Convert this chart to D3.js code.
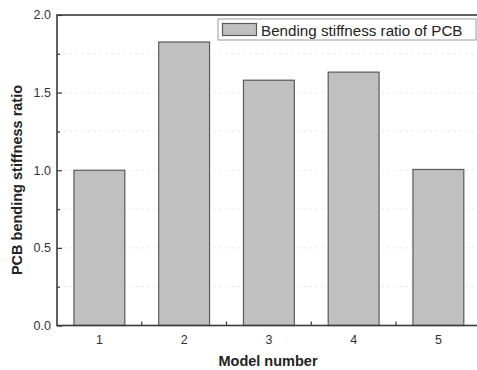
<!DOCTYPE html>
<html><head><meta charset="utf-8">
<script src="https://cdn.jsdelivr.net/npm/d3@7"></script>
<style>body{margin:0;background:#fff;} svg{display:block;font-family:"Liberation Sans",Arial,sans-serif;}</style>
</head><body>
<svg id="c" width="477" height="370"></svg>
<script>
const categories = ["1","2","3","4","5"];
const values = [1.0, 1.826, 1.58, 1.632, 1.005];
const yTicks = [0.0, 0.5, 1.0, 1.5, 2.0];
const yMinorTicks = [0.25, 0.75, 1.25, 1.75];
const seriesName = "Bending stiffness ratio of PCB";
const xTitle = "Model number";
const yTitle = "PCB bending stiffness ratio";

const svg = d3.select("#c");
const L = 57, T = 15, B = 325.5, R = 480.75;
const x = d3.scaleBand().domain(categories).range([L, R]).paddingInner(0.4).paddingOuter(0.2);
const y = d3.scaleLinear().domain([0, 2]).range([B, T]);

// gridlines
svg.append("g").selectAll("line").data(yTicks.concat(yMinorTicks).filter(d=>d>0&&d<2)).join("line")
  .attr("x1", L).attr("x2", R).attr("y1", d=>y(d)).attr("y2", d=>y(d))
  .attr("stroke", "#ebebeb").attr("stroke-width", 1).attr("stroke-dasharray", "3,3");

// bars
svg.append("g").selectAll("rect").data(values).join("rect")
  .attr("x", (d,i)=>x(categories[i])).attr("width", x.bandwidth())
  .attr("y", d=>y(d)).attr("height", d=>B - y(d))
  .attr("fill", "#c0c0c0").attr("stroke", "#5a5a5a").attr("stroke-width", 1.2);

// frame
svg.append("rect").attr("x", L).attr("y", T).attr("width", R-L).attr("height", B-T)
  .attr("fill", "none").attr("stroke", "#3a3a3a").attr("stroke-width", 1.6);

// y axis ticks (inward)
const yAxis = d3.axisRight(y).tickValues(yTicks).tickSize(5).tickFormat("");
const gy = svg.append("g").attr("transform", `translate(${L},0)`).call(yAxis);
gy.select(".domain").remove();
gy.selectAll("line").attr("stroke", "#3a3a3a").attr("stroke-width", 1.2);
const gym = svg.append("g").attr("transform", `translate(${L},0)`)
  .call(d3.axisRight(y).tickValues(yMinorTicks).tickSize(3).tickFormat(""));
gym.select(".domain").remove();
gym.selectAll("line").attr("stroke", "#3a3a3a").attr("stroke-width", 1.2);
svg.append("g").selectAll("text").data(yTicks).join("text")
  .attr("x", L - 6).attr("y", d=>y(d)).attr("dy", "0.35em").attr("text-anchor", "end")
  .attr("font-size", 12.5).attr("fill", "#333").text(d=>d3.format(".1f")(d));

// x axis: boundary ticks inward, labels at centers
const bounds = categories.slice(1).map((c,i)=> (x(categories[i]) + x.bandwidth() + x(c)) / 2);
svg.append("g").selectAll("line").data(bounds).join("line")
  .attr("x1", d=>d).attr("x2", d=>d).attr("y1", B).attr("y2", B-4)
  .attr("stroke", "#3a3a3a").attr("stroke-width", 1.2);
svg.append("g").selectAll("text").data(categories).join("text")
  .attr("x", d=>x(d)+x.bandwidth()/2).attr("y", B + 18).attr("text-anchor", "middle")
  .attr("font-size", 12.5).attr("fill", "#333").text(d=>d);

// titles
svg.append("text").attr("x", 268).attr("y", 366).attr("text-anchor", "middle")
  .attr("font-size", 14.5).attr("font-weight", "bold").attr("fill", "#222").text(xTitle);
svg.append("text").attr("transform", "translate(22,180) rotate(-90)").attr("text-anchor", "middle")
  .attr("font-size", 14.5).attr("font-weight", "bold").attr("fill", "#222").text(yTitle);

// legend
const lg = svg.append("g");
lg.append("rect").attr("x", 218).attr("y", 19).attr("width", 258).attr("height", 21)
  .attr("fill", "#fff").attr("stroke", "#999").attr("stroke-width", 1);
lg.append("rect").attr("x", 222.5).attr("y", 23.5).attr("width", 34).attr("height", 12)
  .attr("fill", "#c0c0c0").attr("stroke", "#5a5a5a").attr("stroke-width", 1.2);
lg.append("text").attr("x", 261).attr("y", 35.5).attr("font-size", 15.2).attr("fill", "#222").text(seriesName);
</script>
</body></html>
